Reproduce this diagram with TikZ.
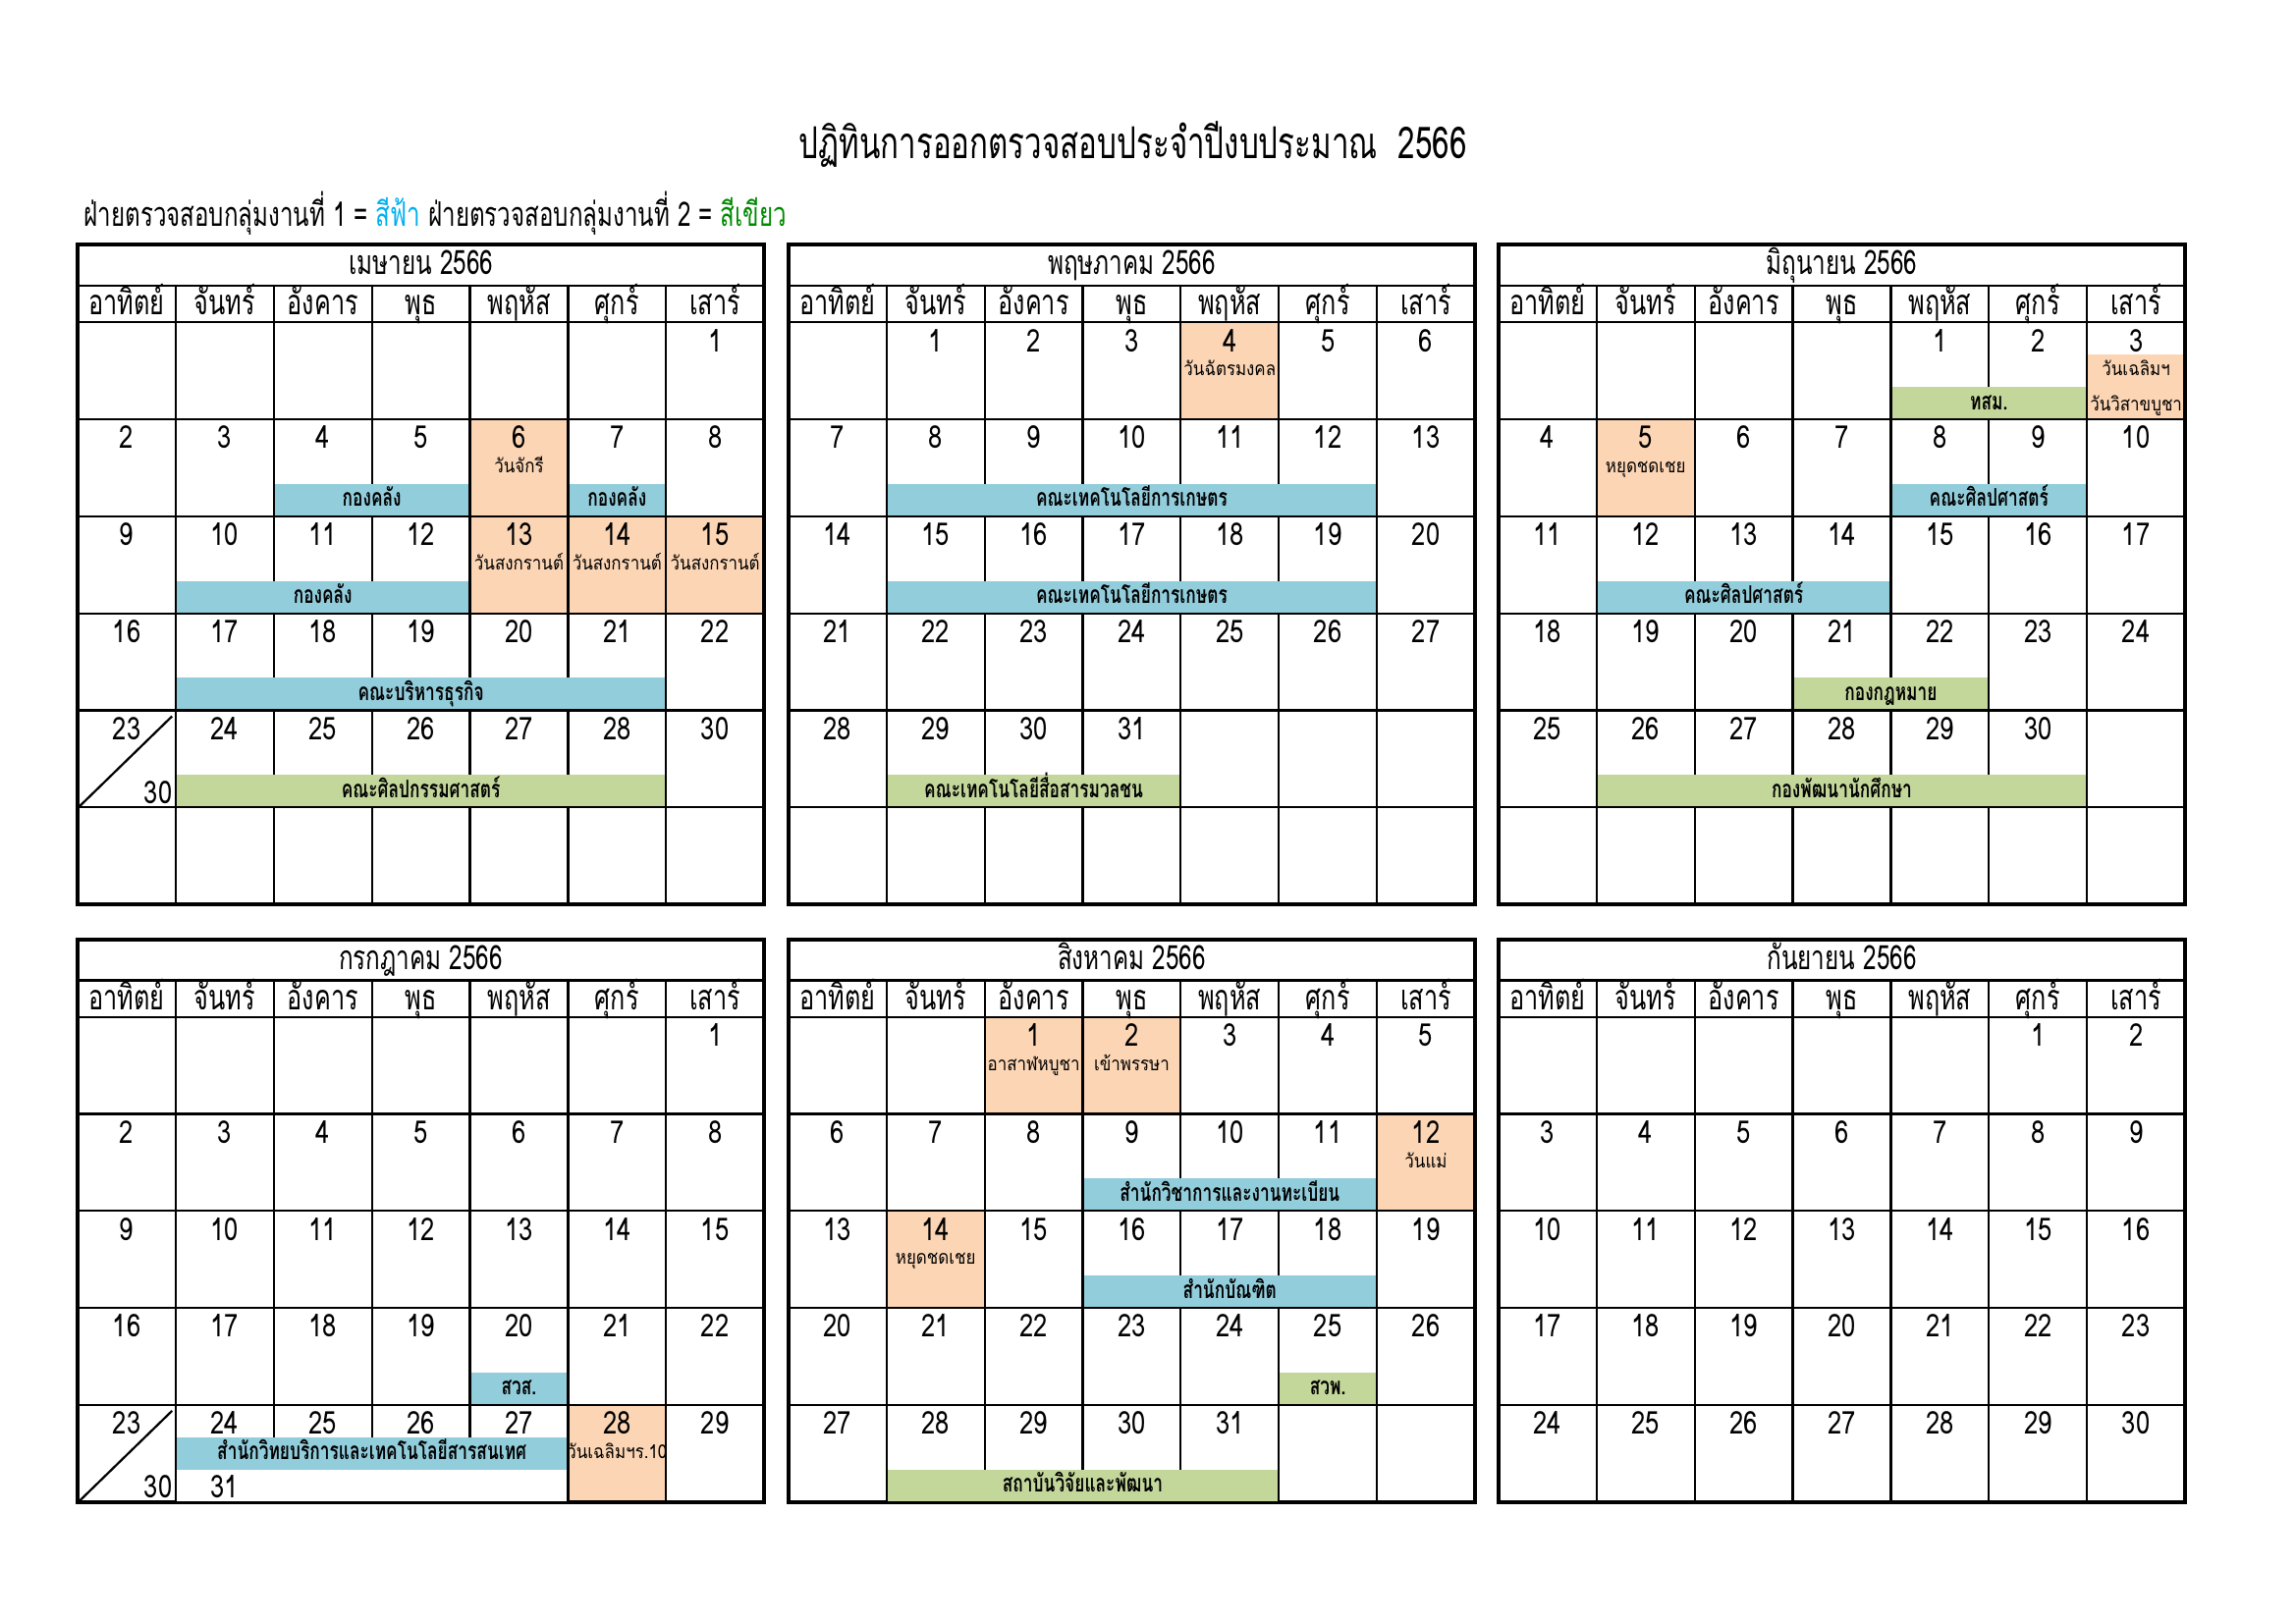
\documentclass[tikz,border=0pt]{standalone}
\usepackage{fontspec}
\setmainfont[Script=Thai]{Loma}
\newfontfamily\fA[Script=Thai,FakeStretch=0.70]{Loma}
\newfontfamily\fB[Script=Thai,FakeStretch=0.71]{Loma}
\newfontfamily\fC[Script=Thai,FakeStretch=0.87]{Loma}
\newfontfamily\fD[Script=Thai,FakeStretch=0.80]{Loma}
\definecolor{barblue}{HTML}{92CDDC}
\definecolor{bargreen}{HTML}{C4D79B}
\definecolor{holorange}{HTML}{FCD5B4}
\definecolor{legblue}{HTML}{00B0F0}
\definecolor{leggreen}{HTML}{008A00}
\def\cw{66.914}
\def\rh{66.2}
\def\cW{468.4}
\tikzset{
  gridline/.style={line width=0.8pt,black},
  outerline/.style={line width=1.4pt,black},
  daynum/.style={font=\fD\fontsize{11.5}{13}\selectfont,inner sep=0pt,anchor=base},
  wkday/.style={font=\fB\fontsize{12.8}{14}\selectfont,inner sep=0pt,anchor=base},
  monthtitle/.style={font=\fB\fontsize{12.3}{14}\selectfont,inner sep=0pt,anchor=base},
  bartext/.style={font=\fA\fontsize{8.9}{10}\selectfont\bfseries,inner sep=0pt,anchor=base},
  hollabel/.style={font=\fC\fontsize{7}{8}\selectfont,inner sep=0pt,anchor=base},
}
\newcommand\setcal[3]{\def\cX{#1}\def\cT{#2}\pgfmathsetmacro\cY{#2+53}\def\cM{#3}}
\newcommand\calframe[2]{%
  \draw[gridline] (\cX,\cT+28) -- ++(\cW,0);
  \draw[gridline] (\cX,\cT+53) -- ++(\cW,0);
  \foreach \r in {1,...,#1} \draw[gridline] (\cX,{\cT+53+\r*\rh}) -- ++(\cW,0);
  \foreach \c in {1,...,6} \draw[gridline] ({\cX+\c*\cw},\cT+28) -- ({\cX+\c*\cw},{\cT+53+#1*\rh});
  \draw[outerline] (\cX,\cT) rectangle ({\cX+\cW},{\cT+53+#1*\rh});
  \node[monthtitle] (\cM-title) at ({\cX+\cW/2},\cT+20.5) {#2};
  \foreach \wdname [count=\i from 0] in {อาทิตย์,จันทร์,อังคาร,พุธ,พฤหัส,ศุกร์,เสาร์}
    \node[wkday] (\cM-wd\i) at ({\cX+(\i+.5)*\cw},\cT+48) {\wdname};
}
\newcommand\holcell[2]{\fill[holorange] ({\cX+#1*\cw},{\cY+#2*\rh}) rectangle ++(\cw,\rh);}
\newcommand\evbar[5]{%
  \fill[#4] ({\cX+#1*\cw+0.75},{\cY+#3*\rh+44}) rectangle ({\cX+(#2+1)*\cw-0.75},{\cY+(#3+1)*\rh-0.75});
  \node[bartext] (\cM-bar#1-#3) at ({\cX+(#1+#2+1)*\cw/2},{\cY+#3*\rh+59.5}) {#5};
}
\newcommand\hlab[3]{\node[hollabel] (\cM-hl#1-#2) at ({\cX+(#1+.5)*\cw},{\cY+#2*\rh+36.5}) {#3};}
\newcommand\week[2]{\foreach \daytext [count=\i from 0] in {#2}
  {\node[daynum] (\cM-d\i-#1) at ({\cX+(\i+.5)*\cw},{\cY+#1*\rh+20}) {\daytext};}}
\newcommand\diagcell[1]{%
  \draw[gridline] ({\cX+0.5},{\cY+(#1+1)*\rh}) -- ({\cX+\cw-2.5},{\cY+#1*\rh+4});
  \node[daynum] (\cM-d30) at ({\cX+55},{\cY+#1*\rh+63.5}) {30};
}
\begin{document}
\begin{tikzpicture}[x=0.5373pt,y=-0.5373pt]
\useasboundingbox (0,0) rectangle (1566.6,1107.6);
\fill[white] (0,0) rectangle (1566.6,1107.6);
\node[font=\fA\fontsize{16.1}{19}\selectfont,inner sep=0pt,anchor=base] (title) at (773,108) {ปฏิทินการออกตรวจสอบประจำปีงบประมาณ\ \ 2566};
\node[font=\fA\fontsize{12.4}{15}\selectfont,inner sep=0pt,anchor=base west] (legend) at (57,154.5)
  {ฝ่ายตรวจสอบกลุ่มงานที่ 1 = \textcolor{legblue}{สีฟ้า} ฝ่ายตรวจสอบกลุ่มงานที่ 2 = \textcolor{leggreen}{สีเขียว}};

% ---------------- April
\setcal{53}{167}{apr}
\holcell{4}{1}\holcell{4}{2}\holcell{5}{2}\holcell{6}{2}
\calframe{6}{เมษายน 2566}
\evbar{2}{3}{1}{barblue}{กองคลัง}
\evbar{5}{5}{1}{barblue}{กองคลัง}
\evbar{1}{3}{2}{barblue}{กองคลัง}
\evbar{1}{5}{3}{barblue}{คณะบริหารธุรกิจ}
\evbar{1}{5}{4}{bargreen}{คณะศิลปกรรมศาสตร์}
\week{0}{{},{},{},{},{},{},1}
\week{1}{2,3,4,5,6,7,8}
\week{2}{9,10,11,12,13,14,15}
\week{3}{16,17,18,19,20,21,22}
\week{4}{23,24,25,26,27,28,30}
\hlab{4}{1}{วันจักรี}
\hlab{4}{2}{วันสงกรานต์}\hlab{5}{2}{วันสงกรานต์}\hlab{6}{2}{วันสงกรานต์}
\diagcell{4}

% ---------------- May
\setcal{538}{167}{may}
\holcell{4}{0}
\calframe{6}{พฤษภาคม 2566}
\evbar{1}{5}{1}{barblue}{คณะเทคโนโลยีการเกษตร}
\evbar{1}{5}{2}{barblue}{คณะเทคโนโลยีการเกษตร}
\evbar{1}{3}{4}{bargreen}{คณะเทคโนโลยีสื่อสารมวลชน}
\week{0}{{},1,2,3,4,5,6}
\week{1}{7,8,9,10,11,12,13}
\week{2}{14,15,16,17,18,19,20}
\week{3}{21,22,23,24,25,26,27}
\week{4}{28,29,30,31,{},{},{}}
\hlab{4}{0}{วันฉัตรมงคล}

% ---------------- June
\setcal{1022.5}{167}{jun}
\holcell{1}{1}
\fill[holorange] ({\cX+6*\cw},{\cY+22}) rectangle ({\cX+7*\cw},{\cY+\rh});
\calframe{6}{มิถุนายน 2566}
\evbar{4}{5}{0}{bargreen}{ทสม.}
\evbar{4}{5}{1}{barblue}{คณะศิลปศาสตร์}
\evbar{1}{3}{2}{barblue}{คณะศิลปศาสตร์}
\evbar{3}{4}{3}{bargreen}{กองกฎหมาย}
\evbar{1}{5}{4}{bargreen}{กองพัฒนานักศึกษา}
\week{0}{{},{},{},{},1,2,3}
\week{1}{4,5,6,7,8,9,10}
\week{2}{11,12,13,14,15,16,17}
\week{3}{18,19,20,21,22,23,24}
\week{4}{25,26,27,28,29,30,{}}
\hlab{1}{1}{หยุดชดเชย}
\node[hollabel] (jun-hl3a) at ({\cX+6.5*\cw},{\cY+36.5}) {วันเฉลิมฯ};
\node[hollabel] (jun-hl3b) at ({\cX+6.5*\cw},{\cY+60.5}) {วันวิสาขบูชา};

% ---------------- July
\setcal{53}{641}{jul}
\holcell{5}{4}
\calframe{5}{กรกฎาคม 2566}
\evbar{4}{4}{3}{barblue}{สวส.}
\fill[barblue] ({\cX+\cw+0.75},{\cY+4*\rh+22}) rectangle ({\cX+5*\cw-0.75},{\cY+4*\rh+44});
\fill[white] ({\cX+\cw+0.75},{\cY+4*\rh+44}) rectangle ({\cX+5*\cw-0.75},{\cY+5*\rh-0.75});
\node[bartext] (jul-bigbar) at ({\cX+3*\cw},{\cY+4*\rh+37.5}) {สำนักวิทยบริการและเทคโนโลยีสารสนเทศ};
\week{0}{{},{},{},{},{},{},1}
\week{1}{2,3,4,5,6,7,8}
\week{2}{9,10,11,12,13,14,15}
\week{3}{16,17,18,19,20,21,22}
\week{4}{23,24,25,26,27,28,29}
\hlab{5}{4}{วันเฉลิมฯร.10}
\diagcell{4}
\node[daynum] (jul-d31) at ({\cX+1.5*\cw},{\cY+4*\rh+63.5}) {31};

% ---------------- August
\setcal{538}{641}{aug}
\holcell{2}{0}\holcell{3}{0}\holcell{6}{1}\holcell{1}{2}
\calframe{5}{สิงหาคม 2566}
\evbar{3}{5}{1}{barblue}{สำนักวิชาการและงานทะเบียน}
\evbar{3}{5}{2}{barblue}{สำนักบัณฑิต}
\evbar{5}{5}{3}{bargreen}{สวพ.}
\evbar{1}{4}{4}{bargreen}{สถาบันวิจัยและพัฒนา}
\week{0}{{},{},1,2,3,4,5}
\week{1}{6,7,8,9,10,11,12}
\week{2}{13,14,15,16,17,18,19}
\week{3}{20,21,22,23,24,25,26}
\week{4}{27,28,29,30,31,{},{}}
\hlab{2}{0}{อาสาฬหบูชา}
\hlab{3}{0}{เข้าพรรษา}
\hlab{6}{1}{วันแม่}
\hlab{1}{2}{หยุดชดเชย}

% ---------------- September
\setcal{1022.5}{641}{sep}
\calframe{5}{กันยายน 2566}
\week{0}{{},{},{},{},{},1,2}
\week{1}{3,4,5,6,7,8,9}
\week{2}{10,11,12,13,14,15,16}
\week{3}{17,18,19,20,21,22,23}
\week{4}{24,25,26,27,28,29,30}
\end{tikzpicture}
\end{document}
